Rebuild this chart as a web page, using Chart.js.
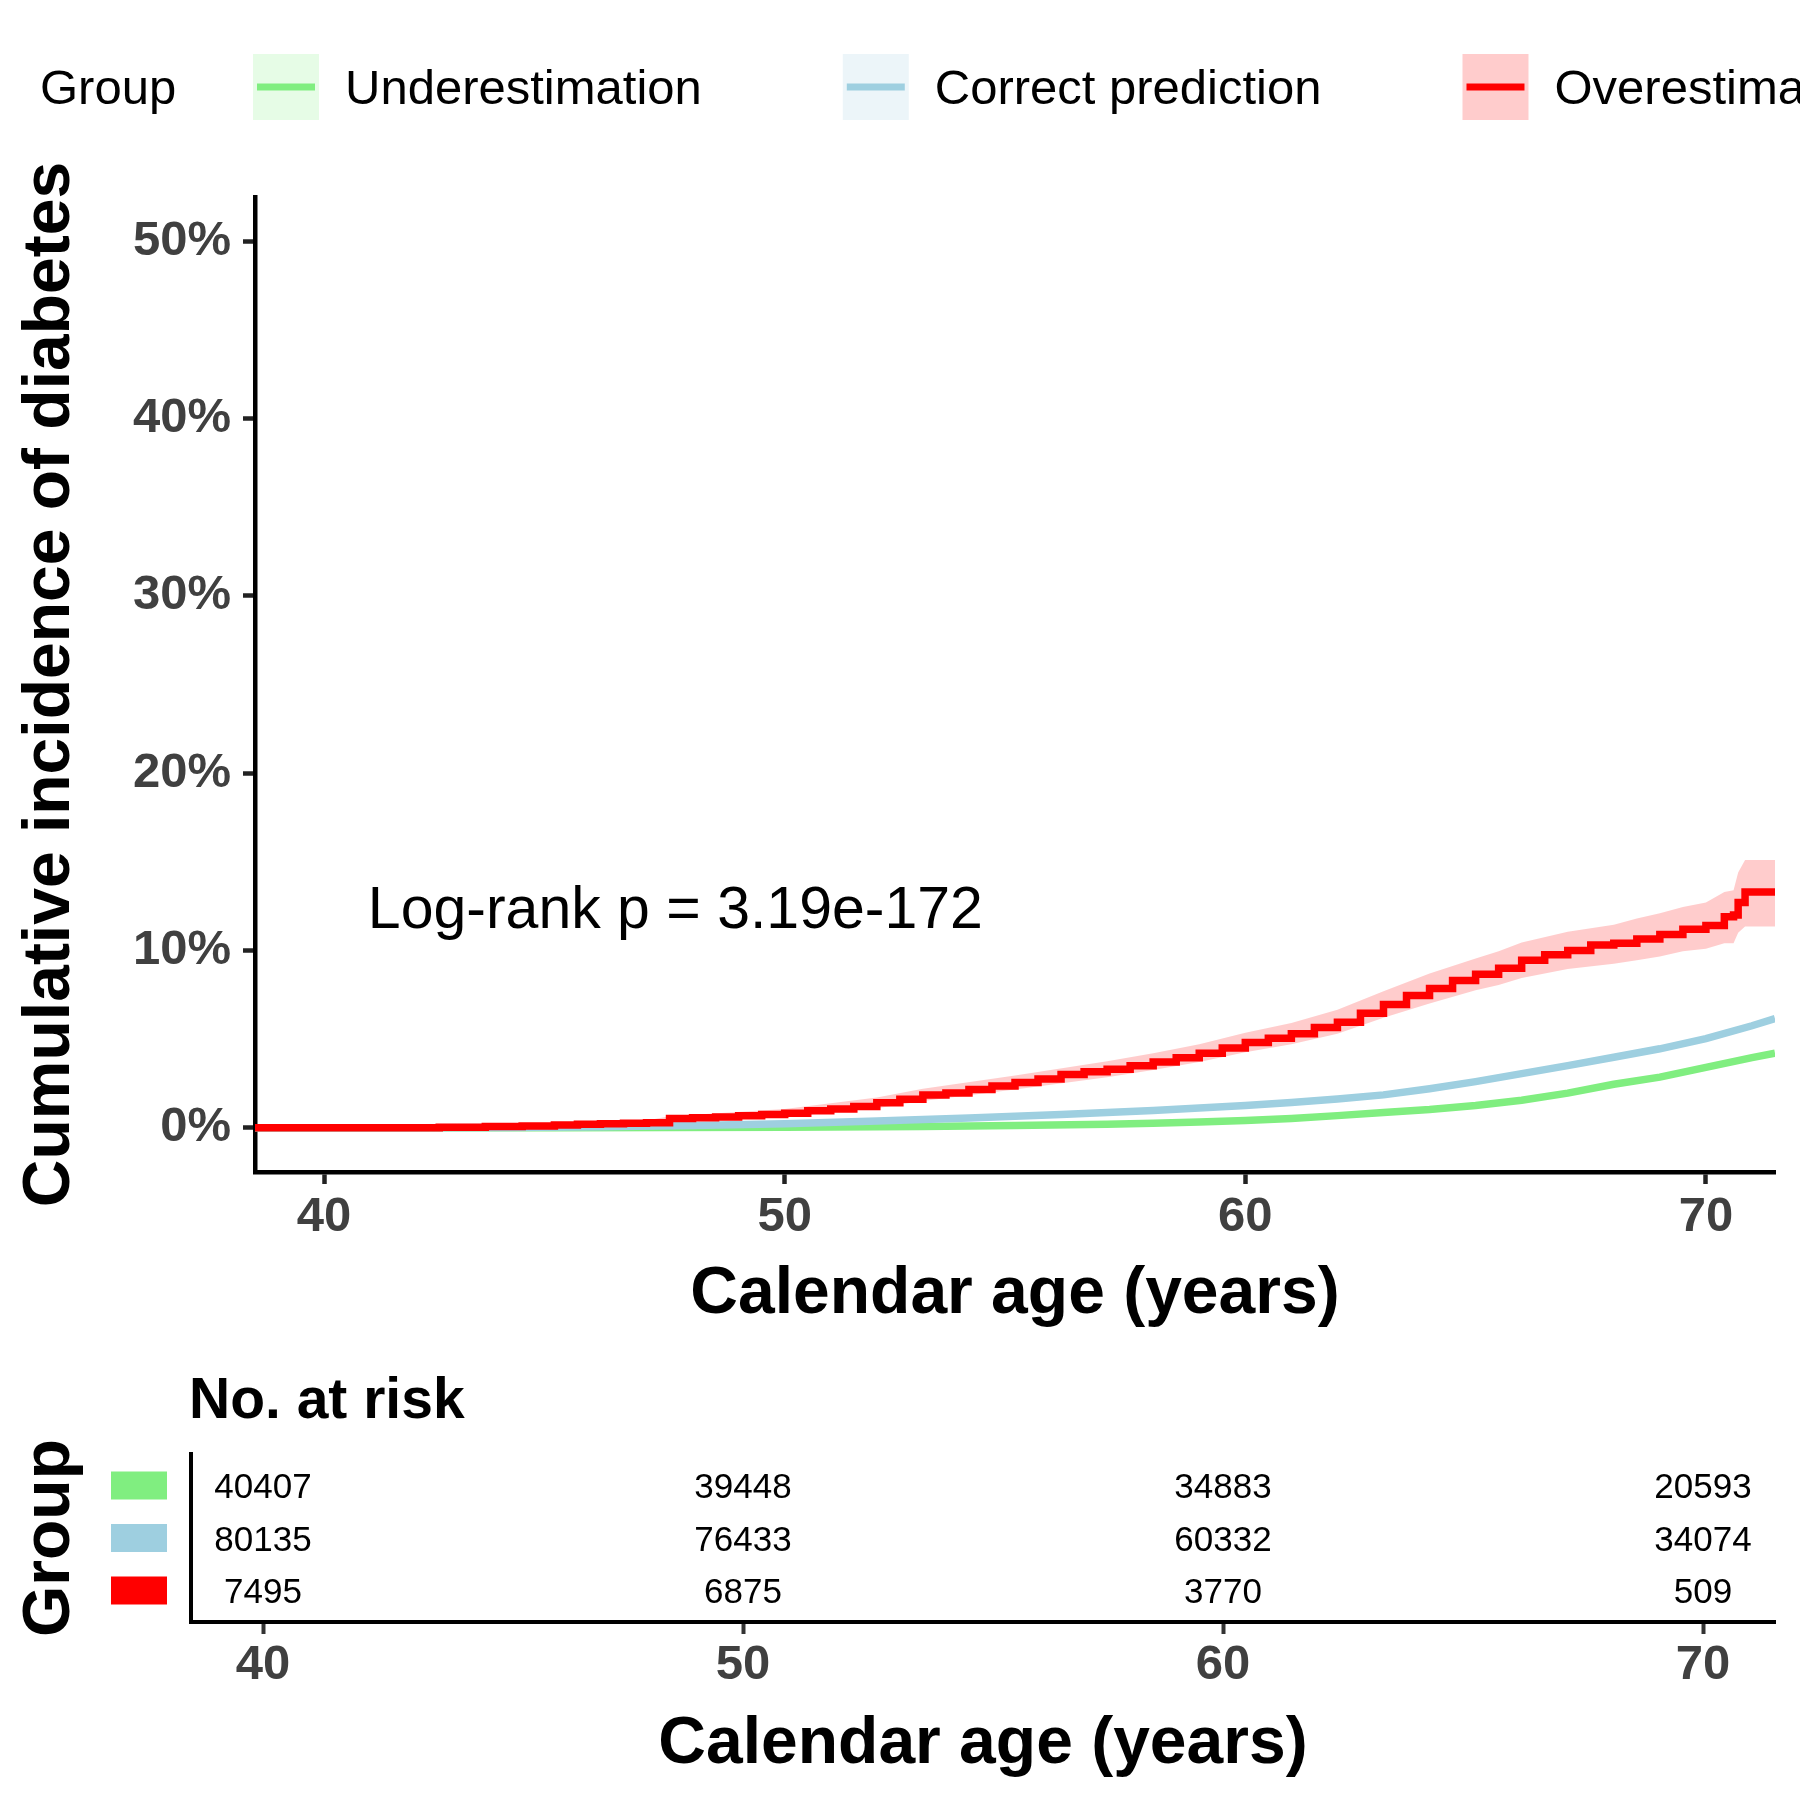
<!DOCTYPE html>
<html><head><meta charset="utf-8">
<script src="https://cdn.jsdelivr.net/npm/chart.js@4.4.1/dist/chart.umd.min.js"></script>
<style>
html,body{margin:0;padding:0;background:#fff;}
#wrap{position:relative;width:1800px;height:1800px;background:#fff;}
#main{position:absolute;left:0;top:0;}
#risk{position:absolute;left:0;top:1340px;}
</style></head><body>
<div id="wrap"><canvas id="main" width="1800" height="1340"></canvas><canvas id="risk" width="1800" height="460"></canvas></div>
<script>
// ---------- data ----------
const groups = ['Underestimation', 'Correct prediction', 'Overestimation'];
const colors = ['#80EE80', '#9ECFE0', '#FF0000'];
const legendTitle = 'Group';

const greenAge = [38.5, 45, 50, 53, 55, 57, 58, 59, 60, 61, 62, 63, 64, 65, 66, 67, 68, 69, 70, 71, 71.5];
const greenPct = [0, 0, 0.03, 0.07, 0.12, 0.2, 0.25, 0.32, 0.4, 0.52, 0.68, 0.85, 1.02, 1.25, 1.55, 1.95, 2.45, 2.85, 3.4, 3.95, 4.2];

const blueAge = [38.5, 42, 44, 46, 48, 50, 52, 54, 56, 58, 60, 61, 62, 63, 64, 65, 66, 67, 68, 69, 70, 71, 71.5];
const bluePct = [0, 0, 0.01, 0.05, 0.12, 0.22, 0.38, 0.55, 0.75, 0.97, 1.25, 1.42, 1.62, 1.85, 2.2, 2.6, 3.05, 3.5, 3.97, 4.45, 5.02, 5.75, 6.15];

const redAge = [38.5, 42.5, 43.5, 44.3, 45.0, 45.5, 46.0, 46.5, 47.0, 47.5, 48.0, 48.5, 49.0, 49.5, 50.0, 50.5, 51.0, 51.5, 52.0, 52.5, 53.0, 53.5, 54.0, 54.5, 55.0, 55.5, 56.0, 56.5, 57.0, 57.5, 58.0, 58.5, 59.0, 59.5, 60.0, 60.5, 61.0, 61.5, 62.0, 62.5, 63.0, 63.5, 64.0, 64.5, 65.0, 65.5, 66.0, 66.5, 67.0, 67.5, 68.0, 68.5, 69.0, 69.5, 70.0, 70.4, 70.6, 70.7, 70.85, 71.5];
const redPct = [0, 0.03, 0.06, 0.1, 0.15, 0.2, 0.22, 0.25, 0.28, 0.52, 0.56, 0.6, 0.68, 0.75, 0.82, 0.95, 1.05, 1.2, 1.4, 1.6, 1.85, 1.95, 2.15, 2.35, 2.55, 2.75, 3.0, 3.15, 3.3, 3.5, 3.7, 3.95, 4.2, 4.5, 4.8, 5.05, 5.3, 5.65, 5.95, 6.45, 6.95, 7.45, 7.85, 8.3, 8.65, 9.0, 9.45, 9.75, 10.0, 10.3, 10.4, 10.65, 10.9, 11.2, 11.4, 11.9, 12.0, 12.7, 13.3, 13.3];

const redBandAge = [38.5, 44.0, 47.0, 47.5, 50.0, 52.0, 53.0, 55.0, 57.0, 58.0, 59.0, 60.0, 61.0, 62.0, 63.0, 64.0, 65.0, 65.5, 66.0, 67.0, 68.0, 68.5, 69.0, 69.5, 70.0, 70.4, 70.6, 70.7, 70.85, 71.5];
const redLo = [0, 0, 0.15, 0.35, 0.6, 1.1, 1.5, 2.15, 2.85, 3.25, 3.7, 4.25, 4.7, 5.3, 6.2, 7.0, 7.75, 8.05, 8.45, 8.95, 9.25, 9.45, 9.65, 9.95, 10.1, 10.4, 10.4, 11.0, 11.35, 11.35];
const redHi = [0, 0.1, 0.4, 0.65, 1.05, 1.7, 2.2, 2.95, 3.75, 4.2, 4.7, 5.35, 5.9, 6.65, 7.7, 8.7, 9.55, 9.95, 10.45, 11.05, 11.45, 11.8, 12.1, 12.45, 12.7, 13.3, 13.4, 14.4, 15.1, 15.1];

const xTicks = [40, 50, 60, 70];
const yTicks = [0, 10, 20, 30, 40, 50];
const pText = 'Log-rank p = 3.19e-172';
const pX = 40.95, pY = 11.25;

const riskTitle = 'No. at risk';
const riskAges = [40, 50, 60, 70];
const riskUnder = [40407, 39448, 34883, 20593];
const riskCorrect = [80135, 76433, 60332, 34074];
const riskOver = [7495, 6875, 3770, 509];
const riskRows = [riskUnder, riskCorrect, riskOver];

// ---------- helpers ----------
const FAM = '"Liberation Sans", Arial, Helvetica, sans-serif';
const xy = (a, v) => a.map((x, i) => ({x: x, y: v[i]}));
function alpha(hex, a) {
  const n = parseInt(hex.slice(1), 16);
  return `rgba(${(n >> 16) & 255},${(n >> 8) & 255},${n & 255},${a})`;
}
const tickFont = {family: FAM, size: 49, weight: 'bold'};
const titleFont = {family: FAM, size: 66, weight: 'bold'};

// ---------- main chart ----------
const legendPlugin = {
  id: 'ggLegend',
  afterDraw(chart) {
    const ctx = chart.ctx;
    ctx.save();
    ctx.font = '49px ' + FAM;
    ctx.textBaseline = 'middle';
    ctx.textAlign = 'left';
    const cy = 87;
    ctx.fillStyle = '#000';
    ctx.fillText(legendTitle, 40, cy + 3);
    let x = 253;
    groups.forEach((g, i) => {
      ctx.fillStyle = alpha(colors[i], 0.2);
      ctx.fillRect(x, cy - 33, 66, 66);
      ctx.strokeStyle = colors[i];
      ctx.lineWidth = 7;
      ctx.beginPath(); ctx.moveTo(x + 4, cy); ctx.lineTo(x + 62, cy); ctx.stroke();
      ctx.fillStyle = '#000';
      ctx.fillText(g, x + 92, cy + 3);
      x = x + 92 + ctx.measureText(g).width + 141;
    });
    ctx.restore();
  }
};
const pvalPlugin = {
  id: 'pval',
  afterDatasetsDraw(chart) {
    const ctx = chart.ctx, xs = chart.scales.x, ys = chart.scales.y;
    ctx.save();
    ctx.font = '59px ' + FAM;
    ctx.fillStyle = '#000';
    ctx.textAlign = 'left';
    ctx.textBaseline = 'alphabetic';
    ctx.fillText(pText, xs.getPixelForValue(pX), ys.getPixelForValue(pY));
    ctx.restore();
  }
};

const lineBase = {pointRadius: 0, borderWidth: 7.5, borderCapStyle: 'butt', fill: false};
new Chart(document.getElementById('main'), {
  type: 'line',
  data: {
    datasets: [
      Object.assign({}, lineBase, {label: groups[2] + ' lower', data: xy(redBandAge, redLo), borderWidth: 0, borderColor: 'rgba(0,0,0,0)', order: 4}),
      Object.assign({}, lineBase, {label: groups[2] + ' upper', data: xy(redBandAge, redHi), borderWidth: 0, borderColor: 'rgba(0,0,0,0)', backgroundColor: alpha(colors[2], 0.2), fill: '-1', order: 3}),
      Object.assign({}, lineBase, {label: groups[0], data: xy(greenAge, greenPct), borderColor: colors[0], order: 2}),
      Object.assign({}, lineBase, {label: groups[1], data: xy(blueAge, bluePct), borderColor: colors[1], order: 1}),
      Object.assign({}, lineBase, {label: groups[2], data: xy(redAge, redPct), borderColor: colors[2], stepped: true, order: 0})
    ]
  },
  options: {
    responsive: false, animation: false, devicePixelRatio: 1, events: [],
    layout: {padding: {left: 0, top: 197, right: 25, bottom: 0}},
    plugins: {legend: {display: false}, tooltip: {enabled: false}},
    scales: {
      x: {
        type: 'linear', min: 38.5, max: 71.5,
        afterBuildTicks: s => { s.ticks = xTicks.map(v => ({value: v})); },
        afterFit: s => { s.height = 168; },
        ticks: {font: tickFont, color: '#404040', padding: 4, maxRotation: 0, autoSkip: false, callback: v => String(v)},
        grid: {display: true, drawOnChartArea: false, drawTicks: true, tickLength: 12, tickColor: '#222', tickWidth: 4.5},
        border: {display: true, color: '#000', width: 4.5},
        title: {display: true, text: 'Calendar age (years)', font: titleFont, color: '#000', padding: {top: 0, bottom: 6}}
      },
      y: {
        type: 'linear', min: -2.5, max: 52.5,
        afterBuildTicks: s => { s.ticks = yTicks.map(v => ({value: v})); },
        afterFit: s => { s.width = 255; },
        ticks: {font: tickFont, color: '#404040', padding: 12, autoSkip: false, callback: v => v + '%'},
        grid: {display: true, drawOnChartArea: false, drawTicks: true, tickLength: 12, tickColor: '#222', tickWidth: 4.5},
        border: {display: true, color: '#000', width: 4.5},
        title: {display: true, text: 'Cumulative incidence of diabetes', font: titleFont, color: '#000', padding: {top: 11, bottom: 0}}
      }
    }
  },
  plugins: [legendPlugin, pvalPlugin]
});

// ---------- risk table ----------
const riskPlugin = {
  id: 'riskTable',
  afterDraw(chart) {
    const ctx = chart.ctx, xs = chart.scales.x, ys = chart.scales.y, ca = chart.chartArea;
    ctx.save();
    ctx.fillStyle = '#000';
    ctx.font = 'bold 57px ' + FAM;
    ctx.textAlign = 'left';
    ctx.textBaseline = 'alphabetic';
    ctx.fillText(riskTitle, ca.left - 2, 78);
    ctx.font = '35px ' + FAM;
    ctx.textAlign = 'center';
    ctx.textBaseline = 'middle';
    riskRows.forEach((row, r) => {
      const py = ys.getPixelForValue(r + 1);
      ctx.fillStyle = colors[r];
      ctx.fillRect(111, py - 14, 56, 28);
      ctx.fillStyle = '#000';
      row.forEach((n, j) => ctx.fillText(String(n), xs.getPixelForValue(riskAges[j]), py + 3));
    });
    ctx.restore();
  }
};
new Chart(document.getElementById('risk'), {
  type: 'scatter',
  data: {datasets: []},
  options: {
    responsive: false, animation: false, devicePixelRatio: 1, events: [],
    layout: {padding: {left: 0, top: 114, right: 25, bottom: 0}},
    plugins: {legend: {display: false}, tooltip: {enabled: false}},
    scales: {
      x: {
        type: 'linear', min: 38.5, max: 71.5,
        afterBuildTicks: s => { s.ticks = riskAges.map(v => ({value: v})); },
        afterFit: s => { s.height = 178; },
        ticks: {font: tickFont, color: '#404040', padding: 2, maxRotation: 0, autoSkip: false, callback: v => String(v)},
        grid: {display: true, drawOnChartArea: false, drawTicks: true, tickLength: 12, tickColor: '#333', tickWidth: 4},
        border: {display: true, color: '#000', width: 4},
        title: {display: true, text: 'Calendar age (years)', font: titleFont, color: '#000', padding: {top: 0, bottom: 16}}
      },
      y: {
        type: 'linear', min: 0.4, max: 3.6, reverse: true,
        afterBuildTicks: s => { s.ticks = [1, 2, 3].map(v => ({value: v})); },
        afterFit: s => { s.width = 191; },
        ticks: {display: false},
        grid: {display: false},
        border: {display: true, color: '#000', width: 4},
        title: {display: true, text: legendTitle, font: titleFont, color: '#000', padding: {top: 11, bottom: 0}}
      }
    }
  },
  plugins: [riskPlugin]
});
</script>
</body></html>
